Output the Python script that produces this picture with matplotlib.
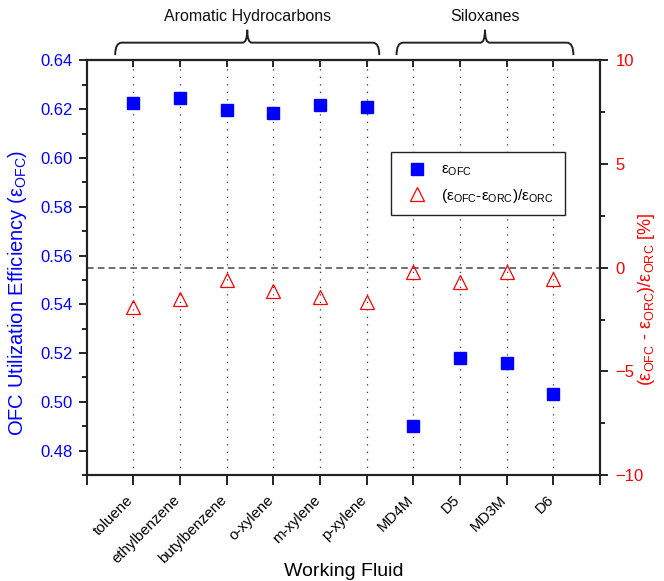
import matplotlib
matplotlib.use("Agg")
import matplotlib.pyplot as plt
from matplotlib.path import Path
from matplotlib.patches import PathPatch
from matplotlib.transforms import blended_transform_factory, ScaledTranslation
from matplotlib.ticker import MultipleLocator, FormatStrFormatter

plt.rcParams['font.family'] = ['Liberation Sans', 'DejaVu Sans']
plt.rcParams['mathtext.fontset'] = 'custom'
plt.rcParams['mathtext.rm'] = 'Liberation Sans'
plt.rcParams['mathtext.it'] = 'Liberation Sans:italic'
plt.rcParams['mathtext.bf'] = 'Liberation Sans:bold'

# Working fluids and results
fluids = ["toluene", "ethylbenzene", "butylbenzene", "o-xylene", "m-xylene",
          "p-xylene", "MD4M", "D5", "MD3M", "D6"]
eff_ofc = [0.6224, 0.6245, 0.6197, 0.6186, 0.6217, 0.6210,
           0.4902, 0.5181, 0.5160, 0.5031]
rel_diff = [-1.87, -1.51, -0.61, -1.10, -1.41, -1.63,
            -0.19, -0.71, -0.19, -0.52]
groups = [("Aromatic Hydrocarbons", 0.61, 6.27), ("Siloxanes", 6.64, 10.43)]

BLUE = "#0000FF"
RED = "#FF0000"

fig = plt.figure(figsize=(6.64, 5.81), dpi=100)
ax = fig.add_axes([0.1306, 0.1824, 0.7730, 0.7135])
ax2 = ax.twinx()

pos = list(range(1, len(fluids) + 1))

# vertical dotted guides at each fluid
for p in pos:
    ax.axvline(p, color="#333333", lw=0.9, ls=(0, (1, 5)), zorder=1)

ax.plot(pos, eff_ofc, ls="none", marker="s", ms=8.6, color=BLUE,
        mec=BLUE, zorder=3, label=r"$\mathrm{\varepsilon_{OFC}}$")

ax2.axhline(0, color="#555555", lw=1.2, ls=(0, (4, 2.5)), zorder=1)
ax2.plot(pos, rel_diff, ls="none", marker="^", ms=10, mfc="none",
         mec=RED, mew=0.9, zorder=3,
         label=r"$\mathrm{(\varepsilon_{OFC}\text{-}\varepsilon_{ORC})/\varepsilon_{ORC}}$")

ax.set_xlim(0, 11)
ax.set_ylim(0.47, 0.64)
ax2.set_ylim(-10, 10)

ax.set_xticks(range(0, 12))
ax.set_xticklabels([""] + fluids + [""], rotation=45, ha="right",
                   rotation_mode="anchor", fontsize=10.8)
ax.tick_params(axis="x", direction="out", length=7, width=1.2, pad=6,
               top=False)
shift = ScaledTranslation(-7 / 100, 0, fig.dpi_scale_trans)
for lbl in ax.get_xticklabels():
    lbl.set_transform(lbl.get_transform() + shift)

ax.yaxis.set_major_locator(MultipleLocator(0.02))
ax.yaxis.set_minor_locator(MultipleLocator(0.01))
ax.yaxis.set_major_formatter(FormatStrFormatter("%.2f"))
ax.tick_params(axis="y", which="major", direction="out", length=6, width=1.2,
               labelcolor=BLUE, labelsize=12, pad=4)
ax.tick_params(axis="y", which="minor", direction="out", length=3.5, width=1.2)

ax2.yaxis.set_major_locator(MultipleLocator(5))
ax2.yaxis.set_minor_locator(MultipleLocator(2.5))
ax2.tick_params(axis="y", which="major", direction="out", length=6, width=1.2,
                labelcolor=RED, labelsize=12, pad=5)
ax2.tick_params(axis="y", which="minor", direction="out", length=3.5, width=1.2)

for a in (ax, ax2):
    for s in a.spines.values():
        s.set_linewidth(1.5)
        s.set_color("#222222")

# inward ticks along the top edge at each fluid
top = ax.secondary_xaxis("top")
top.set_xticks(pos)
top.set_xticklabels([])
top.tick_params(direction="in", length=5, width=1.2)
top.spines["top"].set_linewidth(1.5)

ax.set_xlabel("Working Fluid", fontsize=14)
ax.xaxis.set_label_coords(0.5, -0.212)
ax.set_ylabel(r"OFC Utilization Efficiency ($\mathrm{\varepsilon_{OFC}}$)",
              color=BLUE, fontsize=14.5)
ax.yaxis.set_label_coords(-0.112, 0.44)
ax2.set_ylabel(r"$\mathrm{(\varepsilon_{OFC}\ \text{-}\ \varepsilon_{ORC})/\varepsilon_{ORC}}$ [%]",
               color=RED, fontsize=13)
ax2.yaxis.set_label_coords(1.071, 0.425)

# group braces above the plot
btr = blended_transform_factory(ax.transData, ax.transAxes)
y_end, y_mid, y_peak = 1.013, 1.043, 1.074
r = 0.14
c = 0.10
for name, x0, x1 in groups:
    xc = (x0 + x1) / 2
    verts = [
        (x0, y_end), (x0, y_mid), (x0 + r, y_mid),
        (xc - c, y_mid),
        (xc, y_mid), (xc, y_peak),
        (xc, y_mid), (xc + c, y_mid),
        (x1 - r, y_mid),
        (x1, y_mid), (x1, y_end),
    ]
    codes = [Path.MOVETO, Path.CURVE3, Path.CURVE3,
             Path.LINETO,
             Path.CURVE3, Path.CURVE3,
             Path.CURVE3, Path.CURVE3,
             Path.LINETO,
             Path.CURVE3, Path.CURVE3]
    ax.add_patch(PathPatch(Path(verts, codes), fill=False, lw=1.4,
                           edgecolor="#222222", transform=btr, clip_on=False))
    ax.text(xc, 1.088, name, transform=btr, ha="center", va="bottom",
            fontsize=11.5, color="#111111")

h1, l1 = ax.get_legend_handles_labels()
h2, l2 = ax2.get_legend_handles_labels()
leg = ax2.legend(h1 + h2, l1 + l2, loc="upper left",
                 bbox_to_anchor=(0.578, 0.797), fontsize=11,
                 fancybox=False, framealpha=1, edgecolor="#222222",
                 borderpad=0.7, handletextpad=0.6, labelspacing=0.55,
                 handlelength=2.0)
leg.get_frame().set_linewidth(1.0)

fig.savefig("out.png", dpi=100)
